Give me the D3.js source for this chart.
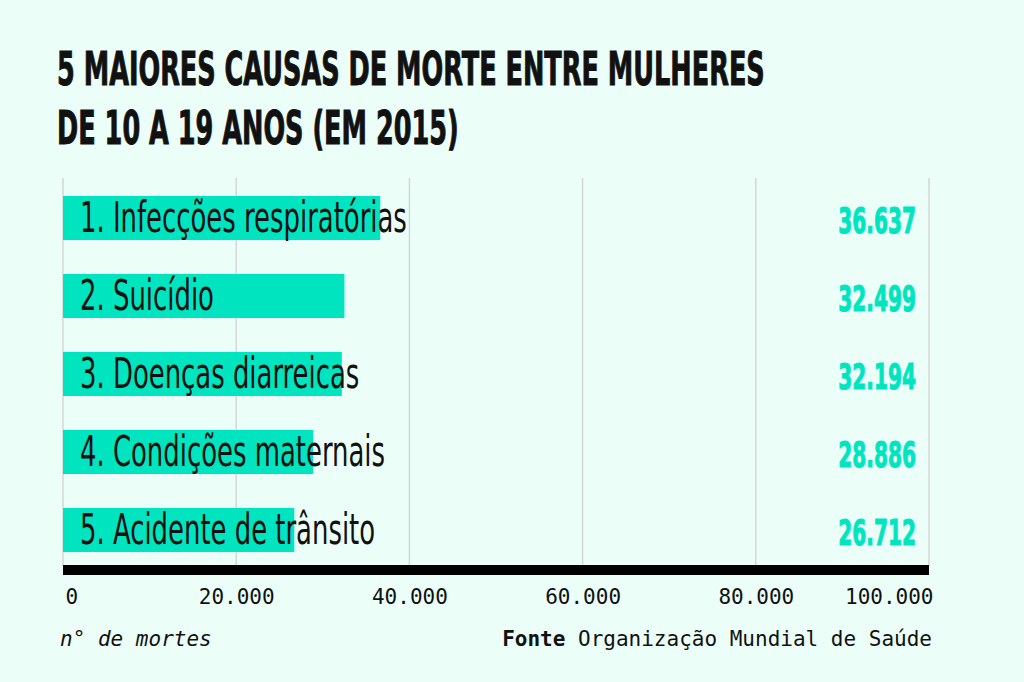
<!DOCTYPE html>
<html><head><meta charset="utf-8">
<script src="https://cdn.jsdelivr.net/npm/d3@7/dist/d3.min.js"></script>
<style>
html,body{margin:0;padding:0;background:#ebfff8;}
svg{display:block;}
</style></head>
<body>
<svg id="chart" width="1024" height="682"></svg>
<script>
const titleLines = ["5 MAIORES CAUSAS DE MORTE ENTRE MULHERES", "DE 10 A 19 ANOS (EM 2015)"];
const categories = ["1. Infecções respiratórias", "2. Suicídio", "3. Doenças diarreicas", "4. Condições maternais", "5. Acidente de trânsito"];
const values = [36637, 32499, 32194, 28886, 26712];
const valueLabels = ["36.637", "32.499", "32.194", "28.886", "26.712"];
const tickValues = [0, 20000, 40000, 60000, 80000, 100000];
const tickLabels = ["0", "20.000", "40.000", "60.000", "80.000", "100.000"];
const axisTitle = "n° de mortes";
const sourceBold = "Fonte";
const sourceText = " Organização Mundial de Saúde";

const teal = "#00e5c0";
const svg = d3.select("#chart");
svg.append("rect").attr("width",1024).attr("height",682).attr("fill","#ebfff8");

const x = d3.scaleLinear().domain([0,100000]).range([63,929]);
const y = d3.scaleBand().domain(categories).range([179,569]).paddingInner(0.436).paddingOuter(0.218);

// title (condensed by a horizontal scale)
const condensedBold = "'Liberation Sans Narrow','DejaVu Sans Condensed',sans-serif";
const titleScale = 0.618;
titleLines.forEach((t,i)=>{
  svg.append("text")
    .attr("transform",`translate(57,${85+i*59}) scale(${titleScale},1)`)
    .attr("font-family",condensedBold).attr("font-weight","bold").attr("font-size",46)
    .attr("fill","#111").attr("stroke","#111").attr("stroke-width",1)
    .text(t);
});

// grid
svg.append("g").selectAll("line").data(tickValues).join("line")
  .attr("x1",d=>x(d)).attr("x2",d=>x(d)).attr("y1",178).attr("y2",566)
  .attr("stroke","#d6d6d6").attr("stroke-width",1.5);

// bars
svg.append("g").selectAll("rect").data(values).join("rect")
  .attr("x",x(0)).attr("y",(d,i)=>y(categories[i]))
  .attr("width",d=>x(d)-x(0)).attr("height",y.bandwidth())
  .attr("fill",teal);

// labels
const lblScale = 0.67;
svg.append("g").selectAll("text").data(categories).join("text")
  .attr("transform",d=>`translate(80,${y(d)+y.bandwidth()/2+14}) scale(${lblScale},1)`)
  .attr("font-family","'Liberation Sans Narrow','DejaVu Sans Condensed',sans-serif")
  .attr("font-size",43).attr("fill","#111").text(d=>d);

// value labels
svg.append("g").selectAll("text").data(valueLabels).join("text")
  .attr("transform",(d,i)=>`translate(916,${y(categories[i])+y.bandwidth()/2+15}) scale(0.64,1)`)
  .attr("text-anchor","end")
  .attr("font-family",condensedBold).attr("font-weight","bold")
  .attr("stroke",teal).attr("stroke-width",1)
  .attr("font-size",35).attr("fill",teal).text(d=>d);

// axis line
svg.append("line").attr("x1",x(0)).attr("x2",x(100000)).attr("y1",570).attr("y2",570)
  .attr("stroke","#000").attr("stroke-width",10);

// ticks
const axis = d3.axisBottom(x).tickValues(tickValues).tickFormat((d,i)=>tickLabels[i]).tickSize(0).tickPadding(0);
const ga = svg.append("g").attr("transform","translate(0,604)").call(axis);
ga.select(".domain").remove();
ga.selectAll("text").attr("font-family","'DejaVu Sans Mono','Liberation Mono',monospace")
  .attr("font-size",21).attr("fill","#111").attr("dy",0).attr("y",0)
  .attr("text-anchor",(d,i)=> i===0 ? "start" : (i===tickValues.length-1 ? "end" : "middle"))
  .attr("dx",(d,i)=> i===0 ? 2 : (i===tickValues.length-1 ? 4 : 0));

// footer
svg.append("text").attr("x",60).attr("y",646)
  .attr("font-family","'DejaVu Sans Mono','Liberation Mono',monospace").attr("font-style","italic")
  .attr("font-size",21).attr("fill","#111").text(axisTitle);
const src = svg.append("text").attr("x",932).attr("y",646).attr("text-anchor","end")
  .attr("font-family","'DejaVu Sans Mono','Liberation Mono',monospace")
  .attr("font-size",21).attr("fill","#111");
src.append("tspan").attr("font-weight","bold").text(sourceBold);
src.append("tspan").text(sourceText);
</script>
</body></html>
